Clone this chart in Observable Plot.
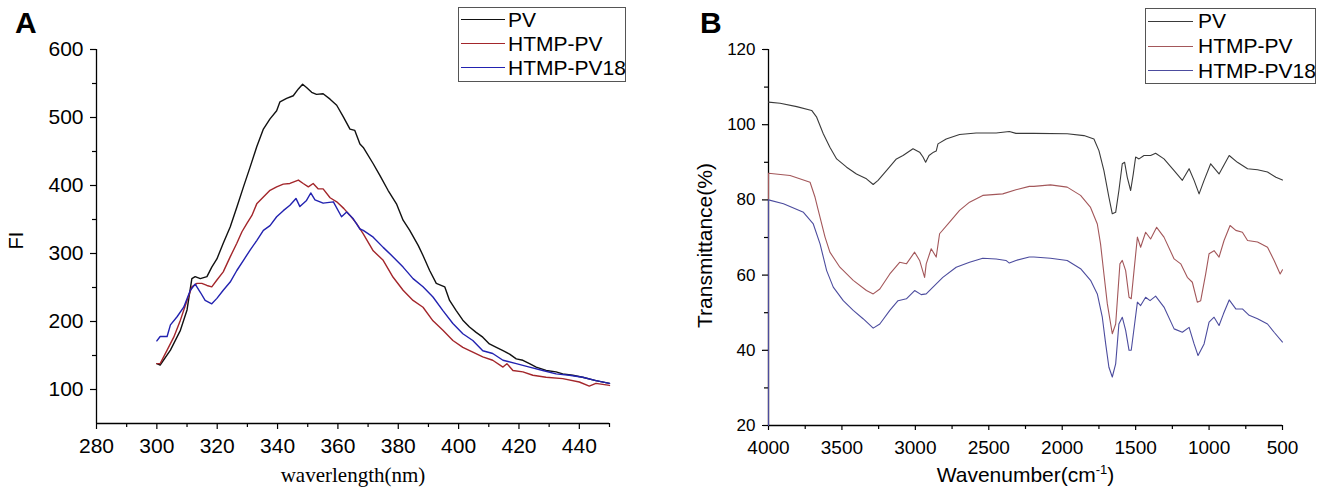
<!DOCTYPE html>
<html><head><meta charset="utf-8">
<script src="https://cdn.jsdelivr.net/npm/d3@7"></script>
<script src="https://cdn.jsdelivr.net/npm/@observablehq/plot@0.6"></script>
<style>
body{margin:0;background:#fff;}
#wrap{position:relative;width:1322px;height:490px;overflow:hidden;font-family:"Liberation Sans",Arial,sans-serif;color:#000;}
.panel{position:absolute;top:0;}
.plabel{position:absolute;font-weight:bold;font-size:30px;line-height:30px;}
.legend{position:absolute;border:1.3px solid #555;background:#fff;box-sizing:border-box;}
.lline{position:absolute;height:0;}
.ltext{position:absolute;font-size:21px;line-height:20px;white-space:nowrap;}
</style></head><body>
<div id="wrap"><div id="pa" class="panel" style="left:0"></div><div id="pb" class="panel" style="left:661px"></div></div>
<script>
// ---------- shared ----------
const seriesNames = ["PV", "HTMP-PV", "HTMP-PV18"];
const colorsA = ["#111111", "#a3262b", "#2222b0"];
const colorsB = ["#3a3a3a", "#a3575a", "#4c4c9e"];

// ---------- Panel A: fluorescence ----------
const xTicksA = [280, 300, 320, 340, 360, 380, 400, 420, 440];
const xMinorA = [290, 310, 330, 350, 370, 390, 410, 430, 450];
const yTicksA = [100, 200, 300, 400, 500, 600];
const yMinorA = [150, 250, 350, 450, 550];
const xDomainA = [280, 450];
const yDomainA = [50, 600];

const fiPV = [[300,138],[301.1,136],[304.5,158],[307.8,187],[310,217],[311.6,263],[312.7,266],[314.4,263],[316.6,266],[318.2,280],[319.9,292],[322,315],[324.3,339],[326.5,368],[328.7,398],[330.9,427],[333.1,457],[335.3,483],[337.5,498],[339.7,510],[340.8,523],[343,528],[345.2,532],[346.9,542],[348.3,549],[349.6,544],[351.3,537],[352.9,534],[355.1,535],[357.4,527],[359.6,518],[361.8,501],[364,483],[365.6,481],[367.3,461],[368.4,456],[371.7,432],[373.9,415],[376.6,393],[379.4,373],[381.6,349],[383.8,334],[386.6,312],[388.2,297],[390.4,275],[392.6,256],[395.4,251],[397,231],[399.2,216],[401.4,202],[403.6,192],[405.8,184],[408,177],[410.2,167],[412.5,162],[414.7,157],[416.9,152],[419.1,145],[421.3,143],[423.5,138],[425.7,133],[429,128],[432.3,126],[434.5,123],[437.8,121],[441.1,118],[445.5,113],[450,109]];
const fiHTMP = [[300,138],[301.1,138],[303.4,158],[305.6,177],[307.8,202],[310,231],[311.6,251],[313.3,256],[314.9,256],[316.6,253],[318.2,251],[319.9,261],[322,273],[324.3,295],[326.5,315],[328.2,332],[329.8,344],[331.5,356],[333.1,373],[335.3,383],[337.5,393],[339.7,398],[341.9,402],[344.1,403],[346.9,408],[348.5,403],[350.2,398],[351.8,403],[353.5,395],[355.1,395],[357.4,382],[359.6,376],[362,366],[364,356],[366.2,344],[368.4,329],[371.7,304],[375,290],[378.3,265],[381.6,246],[384.9,231],[388.2,221],[391.5,201],[394.8,187],[398.1,172],[401.4,162],[404.7,155],[408,148],[411.3,143],[414.7,133],[416,138],[418,128],[421.3,126],[424.6,121],[429,118],[434.5,116],[440,111],[443.3,105],[445.5,109],[450,106]];
const fiHTMP18 = [[300,171.5],[301.1,178],[303.4,178],[304.5,195],[306.7,207],[308.9,221],[311.1,246],[312.7,255],[314.4,243],[316,231],[318.2,226],[319.9,234],[322,246],[324.3,258],[326.5,275],[328.7,290],[330.9,305],[333.1,319],[335.3,334],[337.5,341],[339.7,354],[341.9,363],[344.1,371],[346.1,381],[347.4,369],[349.6,378],[351,389],[352.4,379],[355.1,374],[358.5,376],[361.2,354],[362.9,361],[365.1,351],[367.3,336],[368.4,334],[371.7,324],[375,309],[378.3,295],[381.6,280],[384.9,263],[388.2,251],[391.5,236],[394.8,216],[398.1,197],[401.4,182],[404.7,172],[408,157],[411.3,153],[414.7,143],[419.1,138],[423.5,133],[427.9,128],[432.3,123],[436.7,121],[441.1,118],[445.5,113],[450,109]];

// ---------- Panel B: FTIR ----------
const xTicksB = [4000, 3500, 3000, 2500, 2000, 1500, 1000, 500];
const xMinorB = [3750, 3250, 2750, 2250, 1750, 1250, 750];
const yTicksB = [20, 40, 60, 80, 100, 120];
const yMinorB = [30, 50, 70, 90, 110];
const xDomainB = [4000, 500];
const yDomainB = [20, 120];

const trPV = [[4000,106],[3921,105.7],[3808,104.8],[3706,103.8],[3672,102],[3627,97.6],[3582,94],[3536,90.9],[3468,88.7],[3401,86.9],[3333,85.6],[3287,84.1],[3254,85.2],[3197,87.8],[3129,90.9],[3084,91.8],[3016,93.6],[2971,92.7],[2948,91.4],[2930,90],[2907,91.8],[2876,92.7],[2858,93],[2846,94.9],[2790,96.2],[2699,97.4],[2586,97.8],[2450,97.8],[2360,98.2],[2315,97.7],[2193,97.7],[1966,97.6],[1852,97.1],[1784,96.2],[1750,93.1],[1716,87.8],[1682,80.7],[1659,76.3],[1636,76.7],[1614,82.5],[1591,89.6],[1575,90],[1557,86],[1534,82.5],[1516,86.9],[1500,91.4],[1477,90.9],[1443,91.8],[1398,91.8],[1364,92.4],[1307,90.9],[1238,87.8],[1182,85.2],[1136,88.3],[1102,85.2],[1068,81.6],[1034,85.2],[989,89.6],[932,86.9],[863,91.8],[807,90],[738,88.3],[670,88],[602,87.4],[545,86],[500,85.3]];
const trHTMP = [[4000,20],[4000,87.1],[3853,86.5],[3717,84.7],[3683,80.7],[3661,77.2],[3615,70.1],[3582,66.1],[3514,62.1],[3423,58.6],[3333,55.9],[3287,55],[3242,56.3],[3174,60.3],[3107,63.4],[3061,63],[3005,66.1],[2971,63.9],[2937,59.4],[2926,63],[2892,67],[2858,64.8],[2835,71],[2767,74.1],[2699,77.2],[2631,79.4],[2541,81.2],[2405,81.6],[2315,82.7],[2224,83.6],[2193,83.6],[2080,84],[1966,83.4],[1875,81.2],[1807,78],[1761,73.6],[1739,68.3],[1716,60.3],[1693,52.4],[1659,44.4],[1636,47],[1607,63],[1591,63.9],[1568,61.2],[1545,54.1],[1530,53.7],[1511,61.2],[1488,70.1],[1466,67.4],[1432,71.4],[1398,69.6],[1357,72.7],[1307,70.1],[1238,64.3],[1193,63],[1148,59.4],[1114,58.1],[1080,52.8],[1057,53.2],[1023,60.3],[1000,65.7],[966,66.5],[932,64.8],[898,69.2],[857,73.2],[818,71.9],[773,71.4],[738,69.2],[670,68.8],[602,67.4],[557,63.9],[516,60.3],[500,61.4]];
const trHTMP18 = [[4000,20],[4000,80],[3898,79],[3762,76.7],[3695,73.6],[3649,68.3],[3604,61.2],[3559,56.8],[3491,53.2],[3423,50.6],[3356,48.4],[3287,45.9],[3242,47],[3174,50.6],[3118,53.2],[3061,53.7],[3005,55.9],[2960,54.8],[2926,55],[2880,56.8],[2813,59.4],[2722,62.1],[2631,63.4],[2541,64.5],[2450,64.3],[2383,63.9],[2360,63.2],[2315,63.9],[2224,64.8],[2193,64.8],[2080,64.5],[1966,63.9],[1875,61.7],[1807,58.6],[1761,55],[1727,48.8],[1704,41.7],[1682,35.5],[1659,32.9],[1636,36.4],[1614,47],[1591,48.8],[1568,45.3],[1545,40],[1530,40],[1507,47],[1488,52.8],[1466,51.9],[1432,54.1],[1402,53.2],[1364,54.4],[1307,51.5],[1238,45.7],[1182,44.8],[1136,46.1],[1102,41.7],[1075,38.6],[1034,41.7],[1000,47.5],[966,48.8],[932,46.6],[902,49.7],[863,53.4],[818,51],[773,51],[727,49.3],[670,48.4],[602,47],[557,44.8],[500,42.2]];

const titleXA = "waverlength(nm)", titleYA = "FI";
const titleXB = "Wavenumber(cm-1)", titleYB = "Transmittance(%)";

function lines(seriesList, colors, sw) {
  return seriesList.map((s, i) => Plot.line(s, {x: d => d[0], y: d => d[1], stroke: colors[i], strokeWidth: sw, strokeLinejoin: "round"}));
}
const plain = d => String(d);

const plotA = Plot.plot({
  width: 661, height: 490,
  marginLeft: 96, marginRight: 52, marginTop: 49, marginBottom: 67,
  x: {domain: xDomainA}, y: {domain: yDomainA},
  style: {fontFamily: "Liberation Sans, Arial, sans-serif", fontSize: "21px", color: "#000", background: "transparent", overflow: "visible"},
  marks: [
    Plot.ruleX([xDomainA[0]], {strokeWidth: 1.3}),
    Plot.ruleY([yDomainA[0]], {strokeWidth: 1.3}),
    Plot.axisX({ticks: xTicksA, tickSize: 6, tickPadding: 9, tickFormat: plain, label: null, fontSize: 21, strokeWidth: 1.2}),
    Plot.axisX({ticks: xMinorA, tickSize: 4, tickFormat: () => "", label: null, strokeWidth: 1.2}),
    Plot.axisY({ticks: yTicksA, tickSize: 6, tickPadding: 7, tickFormat: plain, label: null, fontSize: 21, strokeWidth: 1.2}),
    Plot.axisY({ticks: yMinorA, tickSize: 4, tickFormat: () => "", label: null, strokeWidth: 1.2}),
    ...lines([fiPV, fiHTMP, fiHTMP18], colorsA, 1.4),
    Plot.text([titleXA], {text: d => d, frameAnchor: "bottom", lineAnchor: "middle", textAnchor: "middle", dy: 52, fontSize: 21, fontFamily: "Liberation Serif, Times New Roman, serif"}),
    Plot.text([titleYA], {text: d => d, frameAnchor: "left", textAnchor: "middle", lineAnchor: "middle", dx: -80, dy: 4, rotate: -90, fontSize: 20})
  ]
});

const plotB = Plot.plot({
  width: 661, height: 490,
  marginLeft: 107, marginRight: 40, marginTop: 49, marginBottom: 65,
  x: {domain: xDomainB}, y: {domain: yDomainB},
  style: {fontFamily: "Liberation Sans, Arial, sans-serif", fontSize: "17px", color: "#000", background: "transparent", overflow: "visible"},
  marks: [
    Plot.ruleX([xDomainB[0]], {strokeWidth: 1.3}),
    Plot.ruleY([yDomainB[0]], {strokeWidth: 1.3}),
    Plot.axisX({ticks: xTicksB, tickSize: 5, tickPadding: 10, tickFormat: plain, label: null, fontSize: 19, strokeWidth: 1.2}),
    Plot.axisX({ticks: xMinorB, tickSize: 4, tickFormat: () => "", label: null, strokeWidth: 1.2}),
    Plot.axisY({ticks: yTicksB, tickSize: 6, tickPadding: 7, tickFormat: plain, label: null, fontSize: 17, strokeWidth: 1.2}),
    Plot.axisY({ticks: yMinorB, tickSize: 4, tickFormat: () => "", label: null, strokeWidth: 1.2}),
    ...lines([trPV, trHTMP, trHTMP18], colorsB, 1.1),
    Plot.text([titleXB], {text: d => d, frameAnchor: "bottom", lineAnchor: "middle", textAnchor: "middle", dy: 50, fontSize: 21}),
    Plot.text([titleYB], {text: d => d, frameAnchor: "left", textAnchor: "middle", lineAnchor: "middle", dx: -63, dy: 8, rotate: -90, fontSize: 21})
  ]
});

document.getElementById("pa").appendChild(plotA);
document.getElementById("pb").appendChild(plotB);

// superscript for cm-1
d3.select(plotB).selectAll("text").filter(function () { return this.textContent === titleXB; }).each(function () {
  const t = d3.select(this);
  t.text(null);
  t.append("tspan").text("Wavenumber(cm");
  t.append("tspan").attr("dy", "-8").attr("font-size", "13").text("-1");
  t.append("tspan").attr("dy", "8").text(")");
});

// legends and panel labels
const wrap = document.getElementById("wrap");
function addLegend(box, lineX0, lineX1, textX, rowsY, colors, sw) {
  const b = document.createElement("div");
  b.className = "legend";
  Object.assign(b.style, {left: box[0] + "px", top: box[1] + "px", width: box[2] + "px", height: box[3] + "px"});
  wrap.appendChild(b);
  seriesNames.forEach((name, i) => {
    const l = document.createElement("div");
    l.className = "lline";
    Object.assign(l.style, {left: lineX0 + "px", width: (lineX1 - lineX0) + "px", top: (rowsY[i] - sw / 2) + "px", borderTop: sw + "px solid " + colors[i]});
    wrap.appendChild(l);
    const t = document.createElement("div");
    t.className = "ltext";
    t.textContent = name;
    Object.assign(t.style, {left: textX + "px", top: (rowsY[i] - 10.3) + "px"});
    wrap.appendChild(t);
  });
}
addLegend([458, 7, 168, 75], 461, 505, 508, [20, 44, 68], colorsA, 1.6);
addLegend([1145, 8, 171, 76], 1148, 1193, 1198, [21.5, 46.5, 71], colorsB, 1.4);

function addLabel(txt, x) {
  const d = document.createElement("div");
  d.className = "plabel";
  d.textContent = txt;
  Object.assign(d.style, {left: x + "px", top: "8px"});
  wrap.appendChild(d);
}
addLabel("A", 15);
addLabel("B", 700);
</script>
</body></html>
